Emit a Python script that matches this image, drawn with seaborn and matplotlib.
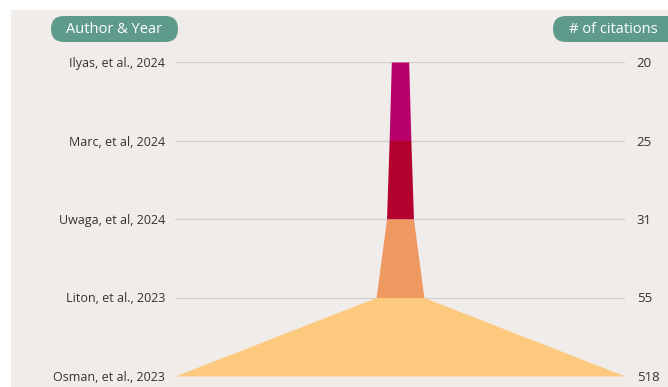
import matplotlib
matplotlib.use("Agg")
import matplotlib.pyplot as plt
from matplotlib.patches import FancyBboxPatch, Rectangle
import seaborn as sns

# Studies ordered from least to most cited
authors = ["Ilyas, et al., 2024", "Marc, et al, 2024", "Uwaga, et al, 2024",
           "Liton, et al., 2023", "Osman, et al., 2023"]
citations = [20, 25, 31, 55, 518]
segment_colors = ["#b8006b", "#b3002f", "#ee9962", "#fdc97f"]

BG = "#f0ecea"
PILL = "#5f9b8b"
TEXT = "#333333"

sns.set_theme(style="whitegrid", rc={"grid.color": "#d2cecc", "grid.linewidth": 0.9})
plt.rcParams["font.family"] = ["Open Sans", "DejaVu Sans"]

W, H = 668, 387
fig = plt.figure(figsize=(W / 100, H / 100), dpi=100, facecolor="white")

# Pixel-space overlay for the panel background and header pills
deco = fig.add_axes([0, 0, 1, 1], zorder=0)
deco.set_xlim(0, W)
deco.set_ylim(H, 0)
deco.axis("off")
deco.add_patch(Rectangle((11, 10), W - 11, H - 10, facecolor=BG, edgecolor="none"))
for x0, x1, label in [(51, 178, "Author & Year"), (553, 700, "# of citations")]:
    deco.add_patch(FancyBboxPatch((x0, 16), x1 - x0, 26,
                                  boxstyle="round,pad=0,rounding_size=13",
                                  facecolor=PILL, edgecolor="none", clip_on=False))
    deco.text(x0 + 16 if x1 > W else (x0 + x1) / 2, 29.5, label, color="white",
              fontsize=10.5, ha="left" if x1 > W else "center", va="center")

# Funnel axes: x in citation units centred on zero, one row per study
left, right, top, bottom = 175, 625, 62, 376
ax = fig.add_axes([left / W, (H - bottom) / H, (right - left) / W, (bottom - top) / H], zorder=1)
ax.patch.set_alpha(0)
half = max(citations) / 2
ax.set_xlim(-half, half)
ax.set_ylim(len(authors) - 1, 0)
ax.grid(axis="x", visible=False)
for s in ax.spines.values():
    s.set_visible(False)
ax.set_xticks([])
rows = list(range(len(authors)))
ax.set_yticks(rows, labels=authors)
ax.tick_params(axis="y", length=0, pad=7.2, labelsize=9, labelcolor=TEXT)

# Each segment tapers from one study's citation count to the next
for i, color in enumerate(segment_colors):
    ys = [rows[i], rows[i + 1]]
    hw = [citations[i] / 2, citations[i + 1] / 2]
    ax.fill_betweenx(ys, [-w for w in hw], hw, color=color, linewidth=0, zorder=3, clip_on=False)

ax2 = ax.twinx()
ax2.set_ylim(ax.get_ylim())
ax2.grid(False)
for s in ax2.spines.values():
    s.set_visible(False)
ax2.set_yticks(rows, labels=[str(c) for c in citations])
ax2.tick_params(axis="y", length=0, pad=8.5, labelsize=9.5, labelcolor=TEXT)

fig.savefig("out.png", dpi=100, facecolor="white")
